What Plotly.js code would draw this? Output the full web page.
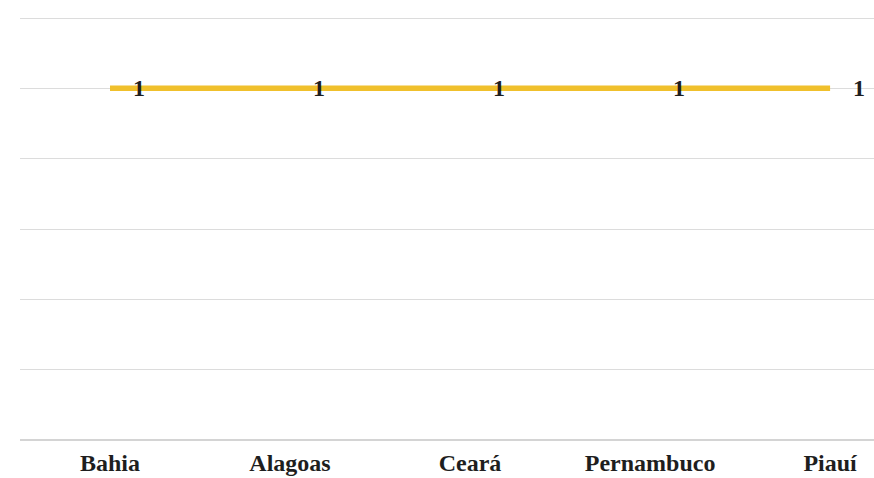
<!DOCTYPE html>
<html>
<head>
<meta charset="utf-8">
<script src="https://cdn.plot.ly/plotly-3.0.1.min.js"></script>
<style>html,body{margin:0;padding:0;background:#fff;}#chart{width:874px;height:478px;}</style>
</head>
<body>
<div id="chart"></div>
<script>
const categories = ["Bahia", "Alagoas", "Ceará", "Pernambuco", "Piauí"];
const values = [1, 1, 1, 1, 1];
const yTicks = [0, 0.2, 0.4, 0.6, 0.8, 1.0, 1.2];

const trace = {
  x: categories,
  y: values,
  type: 'scatter',
  mode: 'lines',
  line: {color: '#f0c02c', width: 5.5},
  hoverinfo: 'skip'
};

const annotations = categories.map((c, i) => ({
  x: c, y: values[i], xref: 'x', yref: 'y',
  text: String(values[i]), showarrow: false,
  xshift: 29, yshift: 0,
  font: {family: 'Liberation Serif, serif', size: 24, color: '#1e1e1e', weight: 'bold'}
}));

const layout = {
  width: 874, height: 478,
  margin: {l: 20, r: 0, t: 11, b: 38},
  paper_bgcolor: '#fff', plot_bgcolor: '#fff',
  showlegend: false,
  xaxis: {
    type: 'category',
    range: [-0.5, 4.244],
    showgrid: false, zeroline: false, showline: false,
    ticks: '',
    tickfont: {family: 'Liberation Serif, serif', size: 24, color: '#1e1e1e', weight: 'bold'},
    ticklabelstandoff: 6
  },
  yaxis: {
    range: [0, 1.22],
    tickvals: yTicks,
    showticklabels: false,
    showgrid: true, gridcolor: '#dcdcdc', gridwidth: 1,
    zeroline: true, zerolinecolor: '#d4d4d4', zerolinewidth: 1.5,
    showline: false, ticks: ''
  },
  annotations: annotations
};

Plotly.newPlot('chart', [trace], layout, {displayModeBar: false, staticPlot: true});
</script>
</body>
</html>
